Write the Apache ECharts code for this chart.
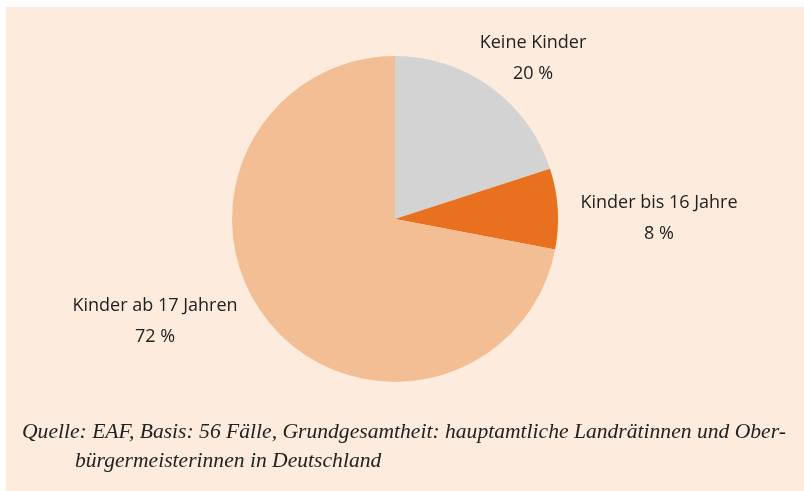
<!DOCTYPE html>
<html>
<head>
<meta charset="utf-8">
<script src="https://cdn.jsdelivr.net/npm/echarts@6/dist/echarts.min.js"></script>
<style>
  html, body { margin: 0; padding: 0; background: #fff; overflow: hidden; }
  #chart { width: 804px; height: 491px; }
</style>
</head>
<body>
<div id="chart"></div>
<script>
const categories = ['Keine Kinder', 'Kinder bis 16 Jahre', 'Kinder ab 17 Jahren']
const shares = [20, 8, 72]
const colors = ['#d3d3d3', '#e8701e', '#f4be94']
const captionLines = [
  'Quelle: EAF, Basis: 56 Fälle, Grundgesamtheit: hauptamtliche Landrätinnen und Ober-',
  'bürgermeisterinnen in Deutschland'
]

// where the outside labels sit (label centre)
const labelPos = [[533, 58], [659, 218], [155, 321]]

const chart = echarts.init(document.getElementById('chart'))

chart.setOption({
  backgroundColor: '#ffffff',
  animation: false,
  graphic: [
    {
      type: 'rect',
      z: -10,
      shape: { x: 6, y: 7, width: 820, height: 500 },
      style: { fill: '#fdebdd' }
    },
    {
      type: 'text',
      left: 22,
      top: 421,
      style: {
        text: captionLines[0],
        font: 'italic 21.6px "Liberation Serif"',
        fill: '#222222'
      }
    },
    {
      type: 'text',
      left: 75,
      top: 450,
      style: {
        text: captionLines[1],
        font: 'italic 21.6px "Liberation Serif"',
        fill: '#222222'
      }
    }
  ],
  series: [{
    type: 'pie',
    center: [395, 219],
    radius: 163,
    startAngle: 90,
    clockwise: true,
    silent: true,
    itemStyle: { borderWidth: 0 },
    label: {
      show: true,
      position: 'outside',
      formatter: p => p.name + '\n' + p.value + ' %',
      fontFamily: 'Open Sans',
      fontSize: 18,
      lineHeight: 31,
      color: '#222222',
      align: 'center'
    },
    labelLine: { show: false },
    labelLayout: p => ({
      x: labelPos[p.dataIndex][0],
      y: labelPos[p.dataIndex][1],
      align: 'center',
      verticalAlign: 'middle'
    }),
    data: categories.map((name, i) => ({
      name: name,
      value: shares[i],
      itemStyle: { color: colors[i] }
    }))
  }]
})
</script>
</body>
</html>
